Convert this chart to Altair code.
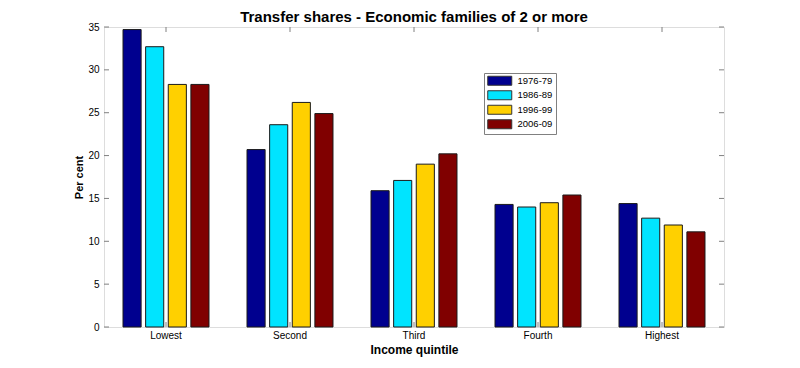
import altair as alt
import pandas as pd

quintiles = ["Lowest", "Second", "Third", "Fourth", "Highest"]
periods = ["1976-79", "1986-89", "1996-99", "2006-09"]
v1976 = [34.7, 20.7, 15.9, 14.3, 14.4]
v1986 = [32.7, 23.6, 17.1, 14.0, 12.7]
v1996 = [28.3, 26.2, 19.0, 14.5, 11.9]
v2006 = [28.3, 24.9, 20.2, 15.4, 11.1]
colors = ["#00008F", "#00E4FF", "#FFD000", "#800000"]
y_ticks = [0, 5, 10, 15, 20, 25, 30, 35]

series = [v1976, v1986, v1996, v2006]
rows = []
for p, vals in zip(periods, series):
    for q, v in zip(quintiles, vals):
        rows.append({"quintile": q, "period": p, "value": v})
df = pd.DataFrame(rows)
ticks_df = pd.DataFrame({"v": y_ticks})
cat_df = pd.DataFrame({"quintile": quintiles})

W, H = 620, 300
FONT = "Liberation Sans"

xscale = alt.Scale(domain=quintiles, paddingInner=0, paddingOuter=0)
yscale = alt.Scale(domain=[0, 35], nice=False, zero=True)

bars = alt.Chart(df).mark_bar(stroke="#1a1a1a", strokeWidth=1).encode(
    x=alt.X("quintile:N", sort=quintiles, scale=xscale,
            axis=alt.Axis(title="Income quintile", labelAngle=0, ticks=False,
                          domain=False, labelPadding=3, titlePadding=4,
                          labelFontSize=10, titleFontSize=12, titleFontWeight="bold")),
    xOffset=alt.XOffset("period:N", sort=periods,
                        scale=alt.Scale(paddingInner=0.2, paddingOuter=0.84)),
    y=alt.Y("value:Q", scale=yscale,
            axis=alt.Axis(title="Per cent", values=y_ticks, ticks=False, domain=False,
                          grid=False, labelPadding=5, titlePadding=3,
                          labelFontSize=10, titleFontSize=11, titleFontWeight="bold")),
    color=alt.Color("period:N", sort=periods,
                    scale=alt.Scale(domain=periods, range=colors),
                    legend=alt.Legend(title=None, orient="none", legendX=380, legendY=46,
                                      symbolType="M-3,-1.125H3V1.125H-3Z", symbolSize=64,
                                      symbolOffset=8,
                                      symbolStrokeColor="#333333", symbolStrokeWidth=1,
                                      labelFontSize=9.5, labelFont=FONT, labelOffset=13,
                                      rowPadding=0.5, padding=3,
                                      strokeColor="#808080", fillColor="white")),
)

tick_color = "#808080"
left_ticks = alt.Chart(ticks_df).mark_rule(color=tick_color, strokeWidth=1).encode(
    y=alt.Y("v:Q", scale=yscale), x=alt.value(0), x2=alt.value(5))
right_ticks = alt.Chart(ticks_df).mark_rule(color=tick_color, strokeWidth=1).encode(
    y=alt.Y("v:Q", scale=yscale), x=alt.value(W), x2=alt.value(W - 5))
top_ticks = alt.Chart(cat_df).mark_rule(color=tick_color, strokeWidth=1).encode(
    x=alt.X("quintile:N", sort=quintiles, scale=xscale, bandPosition=0.5),
    y=alt.value(0), y2=alt.value(5))
bottom_ticks = alt.Chart(cat_df).mark_rule(color=tick_color, strokeWidth=1).encode(
    x=alt.X("quintile:N", sort=quintiles, scale=xscale, bandPosition=0.5),
    y=alt.value(H), y2=alt.value(H - 5))

chart = alt.layer(bars, left_ticks, right_ticks, top_ticks, bottom_ticks).properties(
    width=W, height=H,
    title=alt.TitleParams("Transfer shares - Economic families of 2 or more",
                          fontSize=15, fontWeight="bold", font=FONT, anchor="middle",
                          offset=0, dy=3, color="black"),
    autosize=alt.AutoSizeParams(type="none"),
    padding={"left": 96, "top": 19, "right": 68, "bottom": 33},
).configure_view(
    stroke="#808080", strokeWidth=1.5
).configure_axis(
    labelFont=FONT, titleFont=FONT, labelColor="black", titleColor="black"
).configure(background="white")

chart.save("out.html", embed_options={"renderer": "svg", "actions": False})
